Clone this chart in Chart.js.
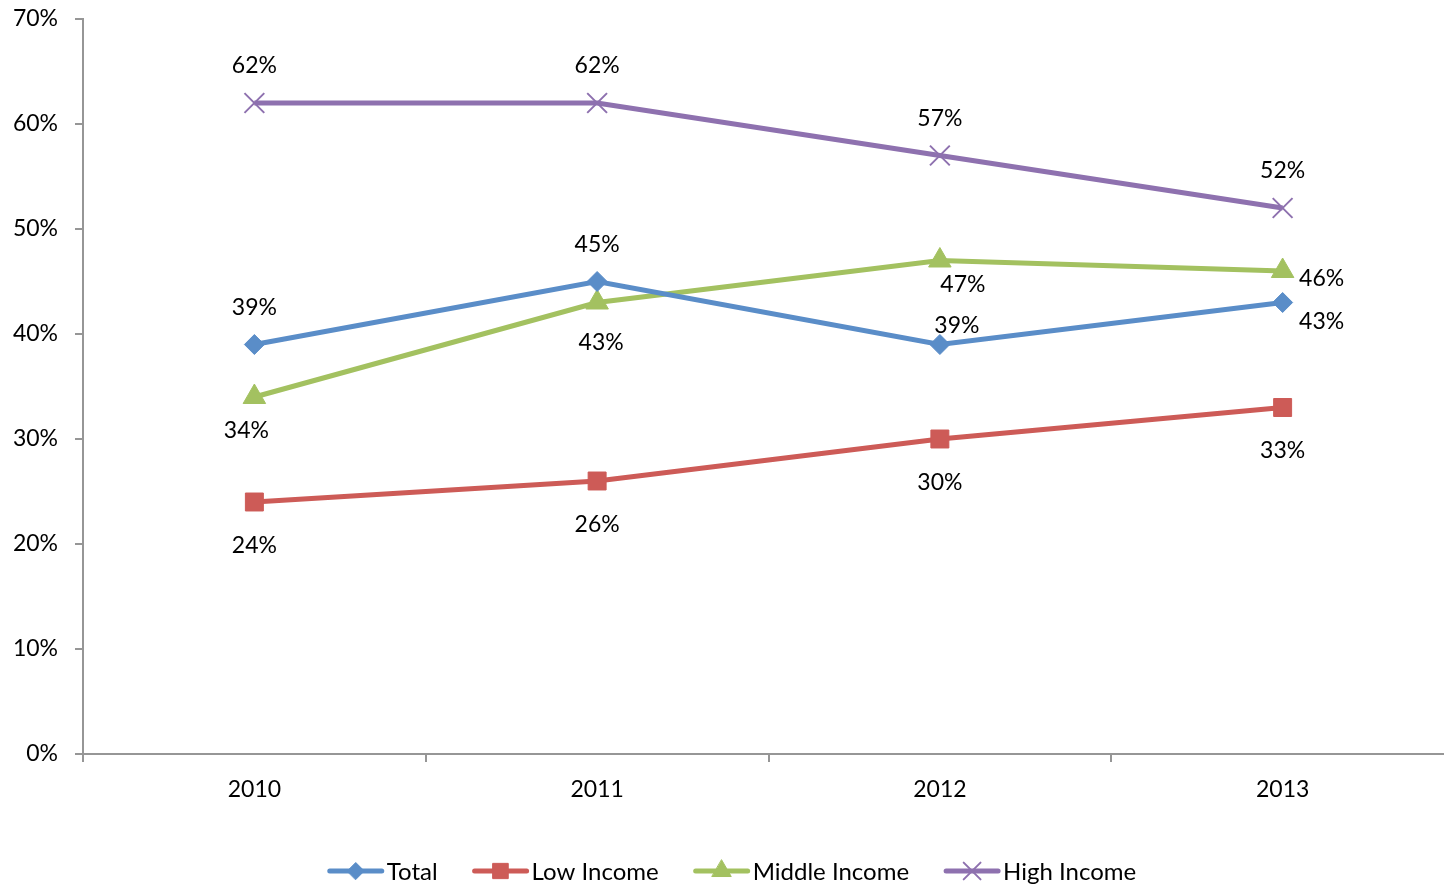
<!DOCTYPE html>
<html>
<head>
<meta charset="utf-8">
<script src="https://cdn.jsdelivr.net/npm/chart.js@4/dist/chart.umd.min.js"></script>
<style>
  html, body { margin: 0; padding: 0; background: #fff; overflow: hidden; }
  #wrap { width: 1470px; height: 886px; }
</style>
</head>
<body>
<div id="wrap"><canvas id="c" width="1470" height="886"></canvas></div>
<script>
// ---- Data ----
const years = ['2010', '2011', '2012', '2013'];
const total = [39, 45, 39, 43];
const lowIncome = [24, 26, 30, 33];
const middleIncome = [34, 43, 47, 46];
const highIncome = [62, 62, 57, 52];
const yTicks = [0, 10, 20, 30, 40, 50, 60, 70];

// ---- Styles ----
const FONT = 'Lato, "Open Sans", sans-serif';
const colors = {
  total: '#5A8DC8',
  low: '#CD5B57',
  middle: '#A3C160',
  high: '#8E71AF'
};
// label offsets (dx, dy) relative to each point
const labelOffsets = [
  [[0, -37], [0, -37], [17, -19], [39, 19]],
  [[0, 44], [0, 44], [0, 44], [0, 43]],
  [[-8, 34], [4, 40], [23, 24], [39, 8]],
  [[0, -37], [0, -37], [0, -37], [0, -37]]
];

const dataLabels = {
  id: 'dataLabels',
  afterDatasetsDraw(chart) {
    const ctx = chart.ctx;
    ctx.save();
    ctx.font = '23px ' + FONT;
    ctx.fillStyle = '#000';
    ctx.textAlign = 'center';
    ctx.textBaseline = 'middle';
    chart.data.datasets.forEach((ds, i) => {
      const meta = chart.getDatasetMeta(i);
      meta.data.forEach((pt, j) => {
        const off = labelOffsets[i][j];
        ctx.fillText(ds.data[j] + '%', pt.x + off[0], pt.y + off[1]);
      });
    });
    ctx.restore();
  }
};

function drawMarker(ctx, ds, x, y) {
  const opts = {
    pointStyle: ds.pointStyle,
    radius: ds.pointRadius,
    rotation: 0,
    borderWidth: ds.pointBorderWidth
  };
  ctx.save();
  ctx.fillStyle = ds.pointBackgroundColor;
  ctx.strokeStyle = ds.pointBorderColor;
  ctx.lineWidth = ds.pointBorderWidth;
  if (Chart.helpers && Chart.helpers.drawPoint) {
    Chart.helpers.drawPoint(ctx, opts, x, y);
  }
  ctx.restore();
}

const customLegend = {
  id: 'customLegend',
  afterDraw(chart) {
    const ctx = chart.ctx;
    ctx.save();
    ctx.font = '24px ' + FONT;
    const lineLen = 56, gapText = 3, gapItem = 35;
    const items = chart.data.datasets.map(ds => ({ ds, w: ctx.measureText(ds.label).width }));
    let totalW = 0;
    items.forEach((it, i) => { totalW += lineLen + gapText + it.w + (i < items.length - 1 ? gapItem : 0); });
    let x = 732 - totalW / 2;
    const y = 871;
    items.forEach(it => {
      ctx.strokeStyle = it.ds.borderColor;
      ctx.lineWidth = 5;
      ctx.lineCap = 'round';
      ctx.beginPath();
      ctx.moveTo(x + 2, y);
      ctx.lineTo(x + lineLen - 2, y);
      ctx.stroke();
      const mds = Object.assign({}, it.ds, { pointRadius: it.ds.pointRadius * 0.85 });
      drawMarker(ctx, mds, x + lineLen / 2, y);
      ctx.fillStyle = '#000';
      ctx.textAlign = 'left';
      ctx.textBaseline = 'middle';
      ctx.fillText(it.ds.label, x + lineLen + gapText, y + 1);
      x += lineLen + gapText + it.w + gapItem;
    });
    ctx.restore();
  }
};

function mkDs(label, data, color, style, radius, bw) {
  return {
    label, data,
    borderColor: color,
    backgroundColor: color,
    borderWidth: 5,
    pointStyle: style,
    pointRadius: radius,
    pointHoverRadius: radius,
    pointBackgroundColor: color,
    pointBorderColor: color,
    pointBorderWidth: bw,
    tension: 0,
    fill: false
  };
}

new Chart(document.getElementById('c'), {
  type: 'line',
  data: {
    labels: years,
    datasets: [
      mkDs('Total', total, colors.total, 'rectRot', 10, 1),
      mkDs('Low Income', lowIncome, colors.low, 'rect', 12.7, 1),
      mkDs('Middle Income', middleIncome, colors.middle, 'triangle', 13, 1),
      mkDs('High Income', highIncome, colors.high, 'crossRot', 14, 2)
    ]
  },
  options: {
    responsive: false,
    animation: false,
    events: [],
    layout: { padding: { top: 19, left: 0, right: 1, bottom: 0 } },
    plugins: { legend: { display: false }, tooltip: { enabled: false } },
    scales: {
      x: {
        offset: true,
        grid: { offset: true, drawOnChartArea: false, drawTicks: true, tickLength: 8, color: '#969696', lineWidth: 2 },
        border: { display: true, color: '#969696', width: 2 },
        ticks: { font: { family: FONT, size: 23 }, color: '#000', padding: 14, maxRotation: 0 },
        afterFit(s) { s.height = 132; s.paddingLeft = 0; s.paddingRight = 0; }
      },
      y: {
        min: 0, max: 70,
        afterBuildTicks(s) { s.ticks = yTicks.map(v => ({ value: v })); },
        grid: { drawOnChartArea: false, drawTicks: true, tickLength: 8, color: '#969696', lineWidth: 2 },
        border: { display: true, color: '#969696', width: 2 },
        ticks: { font: { family: FONT, size: 23 }, color: '#000', padding: 17, callback: v => v + '%' },
        afterFit(s) { s.width = 83; s.paddingTop = 0; s.paddingBottom = 0; }
      }
    }
  },
  plugins: [dataLabels, customLegend]
});
</script>
</body>
</html>
